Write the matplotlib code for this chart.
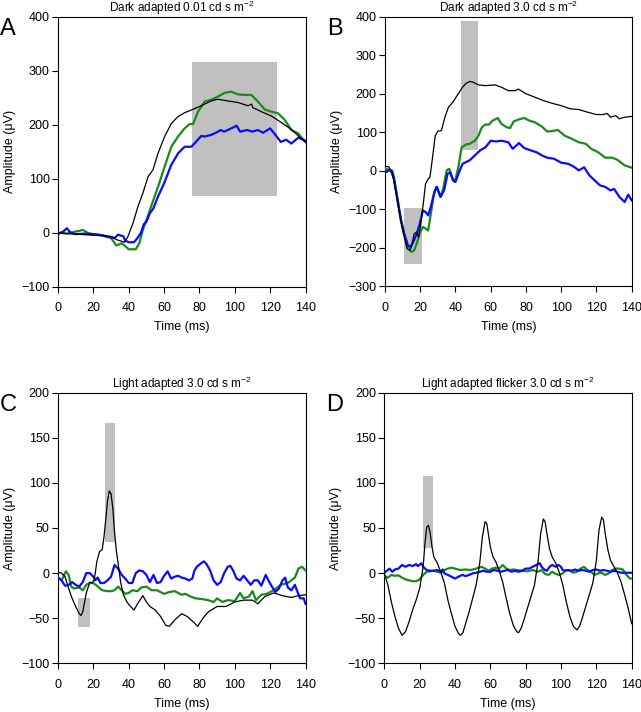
import matplotlib
matplotlib.use("Agg")
import matplotlib.pyplot as plt
from matplotlib.patches import Rectangle

plt.rcParams['font.family'] = ['Liberation Sans', 'DejaVu Sans']
plt.rcParams['mathtext.fontset'] = 'custom'
plt.rcParams['mathtext.rm'] = 'Liberation Sans'
plt.rcParams['mathtext.it'] = 'Liberation Sans'

# ---------------- Panel A: Dark adapted 0.01 ----------------
a_black_t = [0, 5, 10, 15, 20, 25, 30, 33, 37.7, 39.6, 42.4, 45.2, 48, 51, 53.7, 56.6, 60.3, 64.1, 67.9,
             71.6, 75.4, 81, 86.7, 90.5, 96, 101.8, 107.5, 109.5, 110.3, 112, 115, 120.7, 126.3, 132, 140]
a_black_v = [0, -2, -3, -4, -5, -6, -7, -13, -18, -7, 17, 48, 73, 104, 116, 147, 178, 202, 215,
             222, 227, 235, 244, 247, 244, 241, 235, 238, 231, 229, 224, 216, 204, 191, 167]
a_green_t = [0, 5, 10, 12, 14, 17, 20, 25, 30, 33, 36, 38, 40, 44, 46, 48, 50, 52, 56.6, 60.3, 64.1,
             67.9, 71.6, 74.5, 76.4, 79.2, 83, 86.7, 90.5, 94.3, 98, 101.8, 105.6, 109.4, 113, 117,
             120.7, 124.4, 128.2, 132, 135.7, 140]
a_green_v = [0, -2, 2, 3, 5, -1, -3, -5, -10, -24, -20, -25, -31, -31, -20, 5, 23, 42, 85, 122, 159,
             178, 193, 201, 201, 224, 243, 246, 252, 259, 261, 256, 255, 255, 243, 228,
             224, 221, 209, 190, 184, 168]
a_blue_t = [0, 3, 5, 7, 10, 15, 20, 25, 28, 32, 34, 37, 38, 40, 43, 45, 47, 48.5, 50, 52, 54, 56.6, 60,
            64, 68, 71.6, 75.4, 78, 81, 83, 86.7, 90.5, 92, 94, 98, 101, 103, 107, 110, 113, 116,
            120, 123, 126, 129, 132, 136, 140]
a_blue_v = [-3, 2, 8, 0, -3, -2, -3, -5, -8, -10, -4, -7, -15, -18, -18, -10, 0, 15, 20, 36, 45, 67, 91,
            125, 147, 159, 159, 168, 179, 178, 181, 187, 190, 187, 193, 198, 187, 190, 187, 190, 185,
            193, 181, 168, 172, 165, 176, 170]

# ---------------- Panel B: Dark adapted 3.0 ----------------
b_black_t = [0, 2, 3.5, 5, 7, 9, 11, 12.5, 14, 15, 16.5, 18, 19, 20, 21.5, 23, 24.5, 25.5, 27, 28.5,
             30, 32, 34, 36, 38.5, 41.6, 44, 46, 48.2, 50, 53, 57, 62.4, 66, 70, 73.8, 75.7, 80, 85,
             90, 95, 100, 105, 110, 115, 120, 124, 126, 128, 131, 133, 136, 140]
b_black_v = [11, 11, 0, -25, -77, -129, -172, -202, -207, -198, -164, -159, -172, -146, -94, -34, -21,
             -17, 35, 91, 103, 104, 139, 165, 178, 200, 217, 227, 232, 230, 223, 221, 223, 217, 208,
             208, 212, 200, 191, 182, 175, 169, 161, 159, 152, 146, 146, 149, 139, 143, 135, 139, 141]
b_green_t = [0, 2, 3.5, 5, 7, 9, 11, 13, 15, 16.5, 18, 20, 21.5, 23, 24.5, 26, 27.5, 29, 30, 31.5, 33,
             35, 36.5, 38, 39.7, 41.6, 43.5, 46, 48, 51, 53, 55, 57, 59, 61, 64, 66, 69, 71, 73, 75.7,
             79, 82, 85, 89, 92, 95, 98, 102, 106, 110, 114, 117, 121, 125, 129, 132, 136, 140]
b_green_v = [5, 3, -2, -20, -75, -130, -170, -200, -211, -207, -189, -159, -146, -150, -155, -112,
             -68, -42, -51, -68, -47, 1, 5, -16, -29, 9, 61, 68, 70, 78, 91, 113, 120, 120, 130, 137,
             122, 113, 111, 128, 133, 137, 130, 126, 115, 102, 103, 106, 91, 83, 74, 70, 57, 48, 34,
             34, 28, 14, 8]
b_blue_t = [0, 1, 2.5, 4, 5, 7, 9, 11, 13, 14.5, 16, 18, 20, 21.5, 23, 24.5, 26, 28, 29.5, 31.5, 33.5,
            35.5, 37, 38.5, 40, 42, 44, 48, 51, 54, 57, 60, 63, 66, 70, 72.5, 76, 79, 82, 86, 89, 92,
            96, 100, 104, 107, 110, 113, 116, 119, 122, 125, 128, 130, 133, 136, 138, 140]
b_blue_v = [0, -3, 3, 0, -16, -70, -125, -165, -194, -198, -185, -164, -133, -103, -107, -116, -94,
            -55, -42, -68, -51, -8, -4, -25, -29, -4, 18, 27, 40, 53, 61, 78, 76, 78, 74, 57, 72, 59,
            54, 48, 40, 34, 31, 21, 18, 11, 1, 9, -12, -25, -38, -42, -51, -47, -68, -81, -62, -77]

# ---------------- Panel C: Light adapted 3.0 ----------------
c_black_t = [0, 2, 4, 6, 8, 10, 12, 13, 14, 16, 18, 19, 20.5, 22, 23.5, 25, 26, 27, 28, 29, 30, 31,
             32, 33, 34, 35.5, 37, 39, 41, 43, 45, 48, 50, 52, 55, 58, 61, 63, 66, 70, 73, 77, 79,
             82, 85, 90, 95, 100, 105, 110, 113, 117, 122, 127, 132, 136, 140]
c_black_v = [1, 0, -4, -17, -28, -37, -45, -47, -43, -22, -10, -11, -8, 13, 24, 26, 40, 59, 80, 91,
             88, 72, 45, 25, 11, -11, -24, -32, -37, -41, -34, -25, -32, -37, -41, -48, -58, -59, -52,
             -45, -48, -55, -59, -50, -43, -37, -37, -32, -30, -30, -34, -26, -22, -25, -27, -25, -24]
c_green_t = [0, 2, 4.5, 6, 7.5, 9, 12, 14, 16, 18, 20, 22, 25, 28, 30, 32, 34, 36, 38, 40, 42, 45, 47,
             50, 53, 56, 60, 63, 66, 70, 72, 75, 78, 82, 85, 88, 90, 93, 96, 100, 103, 105, 108, 110,
             112, 115, 118, 122, 126, 130, 134, 136, 138, 140]
c_green_v = [-5, -8, 2, -2, -15, -17, -16, -19, -13, -11, -11, -14, -19, -20, -20, -19, -15, -19, -23,
             -22, -19, -20, -16, -15, -19, -19, -23, -21, -20, -24, -23, -26, -28, -29, -30, -32, -28,
             -32, -30, -31, -22, -28, -26, -20, -30, -24, -23, -19, -13, -11, -5, 5, 7, 3]
c_blue_t = [0, 2, 4, 6, 8, 10, 12, 14, 16, 18, 20, 21, 22.5, 24, 26, 28, 30, 32, 34, 36, 38, 40, 42,
            44, 46, 48, 50, 52, 54, 56, 58, 60, 62, 64, 66, 68, 70, 72, 74, 76, 77, 78.5, 81, 82.5,
            84, 86, 88, 90, 92, 94, 96, 97.5, 99, 101, 103, 105, 107, 109, 111, 113, 115, 117.5, 119,
            121, 123, 125, 127, 128.5, 130, 132, 134, 135.5, 137, 139, 140]
c_blue_v = [-5, -8, -14, -13, -10, -13, -15, -10, 0, 0, -4, -8, -5, -11, -11, -8, -4, 9, 5, -2, -6,
            -11, -11, 0, 3, 2, -2, -10, -2, -11, -10, -3, 2, -6, -4, -3, -5, -6, -8, -6, 2, 7, 11,
            13, 10, 3, -8, -13, -10, 0, 7, 8, 3, -6, -8, -3, -8, -13, -8, -8, -14, -2, -8, -15, -21,
            -17, -8, -5, -16, -19, -13, -21, -28, -28, -34]

# ---------------- Panel D: Light adapted flicker 3.0 ----------------
d_black_t = [0, 2, 4, 6, 8, 10, 12, 14, 16, 18, 20, 22, 23, 24, 25, 26, 27, 28, 30, 32, 34, 36, 38,
             40, 42, 43, 44.5, 46, 48, 50, 52, 54, 55.5, 57, 58, 59, 60, 61.5, 63, 65, 67, 69, 71, 73,
             75, 76, 77.5, 79, 81, 83, 85, 87, 88.5, 90, 91, 92, 93.5, 95, 97, 99, 101, 103, 105, 107,
             109, 110.5, 112, 114, 116, 118, 120, 121.5, 123, 124, 125, 126.5, 128, 130, 132, 134, 136,
             138, 140]
d_black_v = [0, -13, -32, -48, -61, -69, -65, -54, -41, -30, -17, 7, 33, 51, 53, 44, 29, 18, 11, 1,
             -11, -30, -45, -59, -67, -69, -66, -56, -43, -28, -13, 11, 40, 57, 55, 42, 29, 18, 13, 3,
             -10, -28, -45, -58, -65, -66, -61, -52, -39, -26, -13, 13, 44, 60, 57, 44, 27, 18, 11, 1,
             -13, -32, -48, -59, -63, -59, -50, -37, -24, -11, 14, 48, 62, 59, 44, 26, 14, 7, 0, -10,
             -24, -39, -56]
d_green_t = [0, 2, 4, 6, 8, 10, 12, 14, 16, 18, 20, 22, 24, 26, 28, 30, 32, 34, 36, 38, 40, 43, 46, 49,
             52, 55, 57, 59, 61, 63, 65, 67, 69, 71, 73, 75, 78, 81, 84, 87, 89, 91, 93, 95, 97, 99,
             101, 103, 105, 107, 109, 111, 113, 115, 117, 119, 121, 123, 125, 127, 129, 131, 133, 135,
             137, 139, 140]
d_green_v = [-3, -5, -2, -3, -2.5, -5, -7, -8, -9, -9, -7, -2, 1.5, 2, 2.6, 1.5, 0.4, 3.4, 5, 6, 5, 3.4,
             4, 3.4, 5, 7, 5, 2.6, 5, 6, 5, 9, 5, 3.4, 4, 3.4, 2.6, 2, 3.4, 1.5, 3.4, -1, -2, 1.5, -1,
             -2, -0.3, 3.4, 2.6, 0.4, 1.5, 5, 7, 3.4, 1.5, -2, -0.3, 0.4, -2, -0.3, 3.4, 5, 5, 4, -2,
             -6, -6]
d_blue_t = [0, 2, 3, 4.5, 6, 8, 10, 12, 14, 16, 18, 19, 21, 22, 24, 26, 28, 30, 32, 33, 34, 36, 38, 40,
            42, 44, 46, 48, 50, 52, 54, 56, 58, 60, 62, 64, 66, 68, 70, 72, 74, 76, 78, 80, 82, 84, 86,
            88, 89, 90, 91, 92, 93.5, 95, 97, 98.5, 100, 101, 102, 104, 106, 108, 110, 112, 114, 116,
            118, 120, 122, 124, 126, 128, 130, 132, 134, 136, 138, 140]
d_blue_v = [0.4, 3.4, 5, 1.5, 4, 5, 9, 7, 9, 7.8, 10, 7.8, 11, 7, 3.4, 2.6, 2.6, 3.4, 1.5, 4, -0.3, -2,
            -4, -6, -4, -2, -3.3, -2, -0.3, 0.4, 1.5, 2.6, 1.5, 1.5, 3.4, 2.6, 1.5, 2.6, 3.4, 1.5, 2.6,
            1.5, 2.6, 5, 5, 7, 9, 11, 7, 5, 3.4, 2.6, 7, 9, 7, 9, 7, 3.4, 2.6, 3.4, 2.6, 4, 2.6, 3.4,
            2.6, 1.5, 3.4, 4, 2.6, 3.4, 2.6, 1.5, 2.6, 1.5, 0.4, 0.4, 0.4, 0.4]

# grey measurement windows: (t0, t1, v0, v1)
a_boxes = [(76, 124, 68, 316)]
b_boxes = [(43, 53, 53, 390), (10.5, 21, -243, -96)]
c_boxes = [(26.5, 32, 34, 166), (11.5, 18, -60, -28)]
d_boxes = [(21.7, 27.6, 27.5, 108)]

titles = [r'Dark adapted 0.01 cd s m$^{\mathregular{-2}}$',
          r'Dark adapted 3.0 cd s m$^{\mathregular{-2}}$',
          r'Light adapted 3.0 cd s m$^{\mathregular{-2}}$',
          r'Light adapted flicker 3.0 cd s m$^{\mathregular{-2}}$']
letters = ['A', 'B', 'C', 'D']
ylims = [(-100, 400), (-300, 400), (-100, 200), (-100, 200)]
yticks = [list(range(-100, 401, 100)), list(range(-300, 401, 100)),
          list(range(-100, 201, 50)), list(range(-100, 201, 50))]
xticks = list(range(0, 141, 20))

panels = [
    (a_black_t, a_black_v, a_green_t, a_green_v, a_blue_t, a_blue_v, a_boxes),
    (b_black_t, b_black_v, b_green_t, b_green_v, b_blue_t, b_blue_v, b_boxes),
    (c_black_t, c_black_v, c_green_t, c_green_v, c_blue_t, c_blue_v, c_boxes),
    (d_black_t, d_black_v, d_green_t, d_green_v, d_blue_t, d_blue_v, d_boxes),
]

fig = plt.figure(figsize=(6.41, 7.12), dpi=100)
W, H = 641, 712
positions = [(58, 16.7, 305.5, 286.5), (385, 16.7, 631.7, 286.3),
             (58, 392.7, 305.5, 663.3), (384.3, 392.7, 631.7, 663.3)]

GREEN = '#1a8a1a'
BLUE = '#0a0aff'
GREY = '#c0c0c0'

for i, (pos, data) in enumerate(zip(positions, panels)):
    x0, y0, x1, y1 = pos
    ax = fig.add_axes([x0 / W, 1 - y1 / H, (x1 - x0) / W, (y1 - y0) / H])
    bt, bv, gt, gv, ut, uv, boxes = data
    for (t0, t1, v0, v1) in boxes:
        ax.add_patch(Rectangle((t0, v0), t1 - t0, v1 - v0, facecolor=GREY, edgecolor='none', zorder=1))
    ax.plot(gt, gv, color=GREEN, lw=1.6, zorder=3)
    ax.plot(ut, uv, color=BLUE, lw=1.6, zorder=4)
    ax.plot(bt, bv, color='black', lw=0.9, zorder=5)
    ax.set_xlim(0, 140)
    ax.set_ylim(*ylims[i])
    ax.set_xticks(xticks)
    ax.set_yticks(yticks[i])
    ax.tick_params(direction='out', length=4, width=0.8, labelsize=9)
    ax.tick_params(axis='x', pad=7)
    ax.tick_params(axis='y', pad=2)
    for s in ax.spines.values():
        s.set_linewidth(0.8)
    ax.set_xlabel('Time (ms)', fontsize=9, labelpad=5)
    ax.set_ylabel('Amplitude (μV)', fontsize=9, labelpad=4)
    ax.set_title(titles[i], fontsize=8.5, pad=1)
    fig.text((x0 - 58) / W + 0.0, 1 - (y0 + 12) / H, letters[i], fontsize=17,
             ha='left', va='center')

fig.savefig('out.png', dpi=100)
